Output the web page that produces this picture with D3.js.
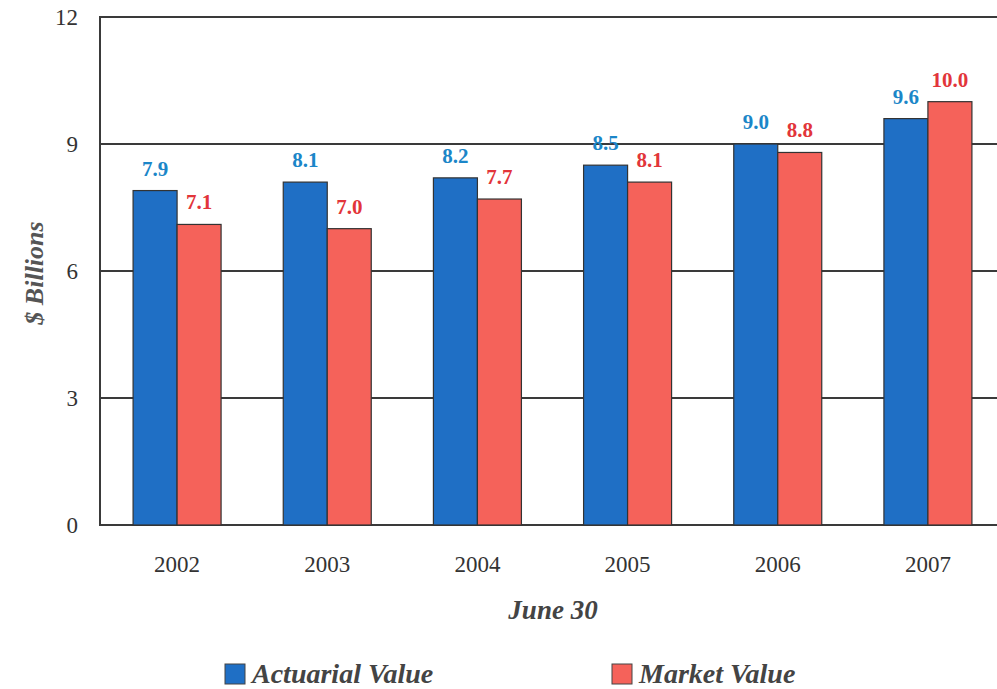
<!DOCTYPE html>
<html lang="en">
  <head>
    <meta charset="utf-8">
    <title>Actuarial and Market Value</title>
    <style>
        body { margin: 0; background: #fff; }
        svg { display: block; }
        text { font-family: "Liberation Serif", "Times New Roman", serif; }
    </style>
    <script src="https://d3js.org/d3.v7.min.js"></script>
  </head>
  <body>
    <script>
    const years = ["2002", "2003", "2004", "2005", "2006", "2007"];
    const actuarialValues = [7.9, 8.1, 8.2, 8.5, 9.0, 9.6];
    const marketValues = [7.1, 7.0, 7.7, 8.1, 8.8, 10.0];
    const seriesNames = ["Actuarial Value", "Market Value"];
    const yTicks = [0, 3, 6, 9, 12];

    const barColors = ["#1f6fc5", "#f5625a"];
    const labelColors = ["#1b86c8", "#e2353a"];

    const width = 997, height = 689;
    const plot = { left: 100, top: 17, bottom: 525, right: 1003 };

    const svg = d3.select("body")
        .append("svg")
        .attr("width", width)
        .attr("height", height);

    const x0 = d3.scaleBand()
        .domain(years)
        .range([plot.left + 2, plot.right]);

    const pairWidth = 88;
    const x1 = d3.scaleBand()
        .domain(seriesNames)
        .range([0, pairWidth]);

    const y = d3.scaleLinear()
        .domain([0, 12])
        .range([plot.bottom, plot.top]);

    // grid lines and frame
    svg.append("g")
        .selectAll("line")
        .data(yTicks)
        .join("line")
        .attr("x1", plot.left)
        .attr("x2", width + 10)
        .attr("y1", d => y(d))
        .attr("y2", d => y(d))
        .attr("stroke", "#3a3a3a")
        .attr("stroke-width", 2);

    svg.append("line")
        .attr("x1", plot.left)
        .attr("x2", plot.left)
        .attr("y1", y(12) - 1)
        .attr("y2", y(0) + 1)
        .attr("stroke", "#3a3a3a")
        .attr("stroke-width", 2);

    // y axis labels
    svg.append("g")
        .selectAll("text")
        .data(yTicks)
        .join("text")
        .attr("x", 78)
        .attr("y", d => y(d) + 8)
        .attr("text-anchor", "end")
        .style("font-size", "23px")
        .style("fill", "#333")
        .text(d => d);

    // x axis labels
    svg.append("g")
        .selectAll("text")
        .data(years)
        .join("text")
        .attr("x", d => x0(d) + x0.bandwidth() / 2)
        .attr("y", 572)
        .attr("text-anchor", "middle")
        .style("font-size", "23px")
        .style("fill", "#333")
        .text(d => d);

    const rows = years.map((yr, i) => ({
        year: yr,
        values: [actuarialValues[i], marketValues[i]]
    }));

    const groups = svg.append("g")
        .selectAll("g")
        .data(rows)
        .join("g")
        .attr("transform", d => `translate(${x0(d.year) + (x0.bandwidth() - pairWidth) / 2},0)`);

    groups.selectAll("rect")
        .data(d => d.values.map((v, k) => ({ v: v, k: k })))
        .join("rect")
        .attr("x", d => x1(seriesNames[d.k]))
        .attr("y", d => y(d.v))
        .attr("width", x1.bandwidth())
        .attr("height", d => y(0) - y(d.v))
        .attr("fill", d => barColors[d.k])
        .attr("stroke", "#333")
        .attr("stroke-width", 1.2);

    groups.selectAll("text")
        .data(d => d.values.map((v, k) => ({ v: v, k: k })))
        .join("text")
        .attr("x", d => x1(seriesNames[d.k]) + x1.bandwidth() / 2)
        .attr("y", d => y(d.v) - 15)
        .attr("text-anchor", "middle")
        .style("font-size", "21px")
        .style("font-weight", "bold")
        .style("fill", d => labelColors[d.k])
        .text(d => d.v.toFixed(1));

    // axis titles
    svg.append("text")
        .attr("transform", "translate(43,273) rotate(-90)")
        .attr("text-anchor", "middle")
        .style("font-size", "26px")
        .style("font-weight", "bold")
        .style("font-style", "italic")
        .style("fill", "#555")
        .text("$ Billions");

    svg.append("text")
        .attr("x", 553)
        .attr("y", 619)
        .attr("text-anchor", "middle")
        .style("font-size", "27px")
        .style("font-weight", "bold")
        .style("font-style", "italic")
        .style("fill", "#444")
        .text("June 30");

    // legend
    const legendX = [225, 612];
    const legend = svg.append("g")
        .selectAll("g")
        .data(seriesNames)
        .join("g")
        .attr("transform", (d, i) => `translate(${legendX[i]},664)`);

    legend.append("rect")
        .attr("width", 20)
        .attr("height", 20)
        .attr("fill", (d, i) => barColors[i])
        .attr("stroke", "#444")
        .attr("stroke-width", 1);

    legend.append("text")
        .attr("x", 27)
        .attr("y", 19)
        .style("font-size", "28px")
        .style("font-weight", "bold")
        .style("font-style", "italic")
        .style("fill", "#444")
        .text(d => d);
    </script>
  </body>
</html>
